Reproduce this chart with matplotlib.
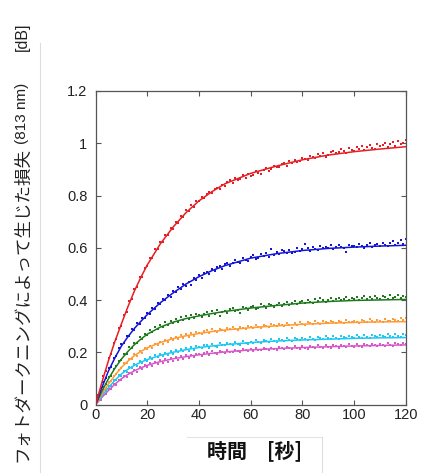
import numpy as np
import matplotlib
matplotlib.use("Agg")
import matplotlib.pyplot as plt
from matplotlib.lines import Line2D

# ---------------- data ----------------
t = np.arange(0, 121, 1)  # measurement time [s]

red = [0.003, 0.038, 0.066, 0.111, 0.131, 0.178, 0.196, 0.238, 0.251, 0.293,
       0.303, 0.345, 0.356, 0.398, 0.405, 0.444, 0.449, 0.488, 0.490, 0.525,
       0.531, 0.561, 0.562, 0.594, 0.596, 0.624, 0.621, 0.651, 0.648, 0.677,
       0.674, 0.699, 0.696, 0.722, 0.719, 0.744, 0.740, 0.763, 0.757, 0.781,
       0.778,
       0.795, 0.790, 0.806, 0.814, 0.809, 0.826, 0.829, 0.826, 0.842, 0.838,
       0.851, 0.858, 0.850, 0.866, 0.859, 0.862, 0.877, 0.868, 0.884, 0.876,
       0.880, 0.893, 0.887, 0.884, 0.899, 0.906, 0.895, 0.902, 0.915, 0.908,
       0.911, 0.921, 0.926, 0.914, 0.931, 0.924, 0.936, 0.929, 0.933, 0.945,
       0.941, 0.936, 0.951, 0.947, 0.943, 0.958, 0.953, 0.962, 0.949, 0.957,
       0.968, 0.972, 0.961, 0.966, 0.978, 0.970, 0.964, 0.982, 0.975, 0.971,
       0.984, 0.977, 0.990, 0.974, 0.986, 0.993, 0.981, 0.979, 0.996, 0.988,
       0.992, 1.001, 0.985, 0.997, 1.004, 0.990, 1.009, 0.996, 1.002, 1.014]

blue = [0.002, 0.031, 0.050, 0.089, 0.101, 0.139, 0.146, 0.180, 0.186, 0.219,
        0.233, 0.236, 0.262, 0.263, 0.289, 0.287, 0.312, 0.309, 0.333, 0.331,
        0.352, 0.349, 0.371, 0.366, 0.389, 0.384, 0.405, 0.401, 0.420, 0.414,
        0.436, 0.430, 0.449, 0.443, 0.463, 0.455, 0.470, 0.458, 0.486, 0.479,
        0.497, 0.486, 0.505, 0.509, 0.499, 0.520, 0.511, 0.527, 0.531, 0.519,
        0.538, 0.544, 0.529, 0.541, 0.552, 0.546, 0.543, 0.561, 0.555, 0.549,
        0.566, 0.572, 0.558, 0.563, 0.577, 0.569, 0.581, 0.566, 0.597, 0.574,
        0.583, 0.575, 0.591, 0.588, 0.579, 0.593, 0.581, 0.586, 0.598, 0.590,
        0.596, 0.614, 0.601, 0.588, 0.603, 0.595, 0.592, 0.608, 0.599, 0.604,
        0.601, 0.610, 0.596, 0.603, 0.612, 0.605, 0.598, 0.584, 0.611, 0.606,
        0.609, 0.602, 0.615, 0.607, 0.600, 0.613, 0.619, 0.605, 0.611, 0.616,
        0.608, 0.620, 0.613, 0.606, 0.618, 0.625, 0.611, 0.617, 0.629, 0.614, 0.633]

green = [0.001, 0.025, 0.038, 0.067, 0.078, 0.106, 0.112, 0.138, 0.147, 0.168,
         0.171, 0.196, 0.193, 0.222, 0.216, 0.238, 0.236, 0.258, 0.252, 0.271,
         0.267, 0.287, 0.279, 0.298, 0.289, 0.305, 0.299, 0.316, 0.304, 0.321,
         0.313, 0.329, 0.318, 0.334, 0.323, 0.339, 0.327, 0.345, 0.331, 0.348,
         0.344, 0.336, 0.349, 0.353, 0.341, 0.358, 0.347, 0.362, 0.340, 0.355,
         0.360, 0.352, 0.366, 0.371, 0.358, 0.363, 0.352, 0.374, 0.369, 0.362,
         0.373, 0.379, 0.366, 0.371, 0.384, 0.377, 0.372, 0.386, 0.380, 0.375,
         0.383, 0.391, 0.378, 0.386, 0.394, 0.381, 0.389, 0.397, 0.385, 0.392,
         0.398, 0.390, 0.402, 0.394, 0.388, 0.403, 0.396, 0.407, 0.399, 0.393,
         0.401, 0.408, 0.396, 0.404, 0.410, 0.399, 0.406, 0.412, 0.402, 0.409,
         0.405, 0.413, 0.400, 0.408, 0.416, 0.404, 0.411, 0.403, 0.415, 0.409,
         0.406, 0.417, 0.411, 0.404, 0.419, 0.410, 0.413, 0.421, 0.407, 0.416, 0.412]

orange = [0.000, 0.020, 0.030, 0.055, 0.062, 0.086, 0.090, 0.111, 0.118, 0.134,
          0.140, 0.158, 0.159, 0.176, 0.174, 0.193, 0.188, 0.205, 0.199, 0.216,
          0.213, 0.226, 0.219, 0.234, 0.228, 0.242, 0.233, 0.248, 0.239, 0.256,
          0.247, 0.261, 0.252, 0.266, 0.256, 0.270, 0.260, 0.274, 0.263, 0.279,
          0.276, 0.270, 0.282, 0.285, 0.274, 0.289, 0.281, 0.277, 0.291, 0.286,
          0.284, 0.293, 0.288, 0.296, 0.290, 0.285, 0.299, 0.294, 0.291, 0.302,
          0.297, 0.293, 0.304, 0.299, 0.295, 0.307, 0.301, 0.298, 0.309, 0.304,
          0.300, 0.310, 0.305, 0.302, 0.313, 0.307, 0.294, 0.311, 0.306, 0.315,
          0.310, 0.305, 0.316, 0.312, 0.308, 0.319, 0.313, 0.310, 0.321, 0.315,
          0.311, 0.320, 0.316, 0.313, 0.322, 0.317, 0.314, 0.324, 0.318, 0.315,
          0.321, 0.317, 0.314, 0.325, 0.319, 0.316, 0.327, 0.320, 0.317, 0.326,
          0.321, 0.318, 0.328, 0.322, 0.319, 0.330, 0.323, 0.320, 0.331, 0.325, 0.333]

cyan = [0.002, 0.018, 0.026, 0.047, 0.051, 0.072, 0.073, 0.094, 0.093, 0.113,
        0.112, 0.130, 0.126, 0.143, 0.139, 0.156, 0.149, 0.166, 0.158, 0.175,
        0.168, 0.182, 0.176, 0.190, 0.181, 0.195, 0.186, 0.199, 0.191, 0.205,
        0.196, 0.209, 0.200, 0.213, 0.204, 0.217, 0.207, 0.220, 0.210, 0.224,
        0.222, 0.216, 0.227, 0.230, 0.219, 0.232, 0.226, 0.222, 0.235, 0.229,
        0.227, 0.236, 0.231, 0.228, 0.240, 0.234, 0.230, 0.243, 0.237, 0.233,
        0.241, 0.236, 0.246, 0.240, 0.237, 0.249, 0.243, 0.239, 0.251, 0.245,
        0.242, 0.252, 0.247, 0.243, 0.255, 0.249, 0.245, 0.257, 0.250, 0.247,
        0.255, 0.250, 0.247, 0.259, 0.253, 0.249, 0.261, 0.254, 0.251, 0.263,
        0.256, 0.252, 0.262, 0.257, 0.253, 0.265, 0.258, 0.254, 0.264, 0.259,
        0.255, 0.266, 0.260, 0.256, 0.267, 0.261, 0.257, 0.268, 0.262, 0.258,
        0.268, 0.263, 0.259, 0.270, 0.264, 0.260, 0.271, 0.265, 0.261, 0.272, 0.266]

magenta = [0.000, 0.014, 0.020, 0.039, 0.041, 0.060, 0.060, 0.078, 0.077, 0.095,
           0.094, 0.110, 0.105, 0.121, 0.117, 0.134, 0.126, 0.143, 0.135, 0.151,
           0.144, 0.158, 0.150, 0.164, 0.156, 0.170, 0.160, 0.174, 0.164, 0.179,
           0.169, 0.182, 0.172, 0.186, 0.175, 0.189, 0.178, 0.192, 0.181, 0.195,
           0.194, 0.188, 0.199, 0.202, 0.191, 0.204, 0.198, 0.194, 0.207, 0.201,
           0.199, 0.208, 0.203, 0.200, 0.211, 0.206, 0.202, 0.213, 0.208, 0.204,
           0.212, 0.207, 0.216, 0.211, 0.208, 0.218, 0.213, 0.209, 0.219, 0.214,
           0.211, 0.221, 0.216, 0.212, 0.222, 0.217, 0.213, 0.223, 0.218, 0.215,
           0.224, 0.219, 0.215, 0.226, 0.220, 0.216, 0.227, 0.221, 0.217, 0.228,
           0.222, 0.218, 0.229, 0.223, 0.219, 0.230, 0.224, 0.220, 0.231, 0.225,
           0.221, 0.232, 0.226, 0.222, 0.233, 0.227, 0.223, 0.233, 0.228, 0.224,
           0.234, 0.229, 0.225, 0.235, 0.230, 0.226, 0.236, 0.231, 0.227, 0.237, 0.232]

# fitted curves, read at these times
fit_t = [0, 2.5, 5, 7.5, 10, 12.5, 15, 17.5, 20, 25, 30, 35, 40, 45, 50,
         60, 70, 80, 90, 100, 110, 120]
red_fit = [0, 0.088, 0.17, 0.243, 0.31, 0.375, 0.435, 0.487, 0.535, 0.615, 0.68,
           0.735, 0.78, 0.815, 0.845, 0.885, 0.913, 0.937, 0.955, 0.968, 0.978, 0.987]
blue_fit = [0, 0.068, 0.13, 0.18, 0.225, 0.26, 0.292, 0.319, 0.345, 0.39, 0.428,
            0.462, 0.49, 0.513, 0.532, 0.561, 0.578, 0.59, 0.598, 0.603, 0.607, 0.61]
green_fit = [0, 0.053, 0.1, 0.14, 0.175, 0.204, 0.23, 0.251, 0.27, 0.297, 0.316,
             0.33, 0.34, 0.349, 0.357, 0.37, 0.38, 0.389, 0.395, 0.399, 0.401, 0.403]
orange_fit = [0, 0.043, 0.08, 0.113, 0.143, 0.167, 0.188, 0.204, 0.218, 0.238, 0.253,
              0.264, 0.273, 0.28, 0.286, 0.295, 0.302, 0.308, 0.312, 0.315, 0.317, 0.318]
cyan_fit = [0, 0.035, 0.066, 0.094, 0.118, 0.136, 0.151, 0.163, 0.173, 0.189, 0.201,
            0.211, 0.219, 0.225, 0.23, 0.238, 0.244, 0.248, 0.251, 0.254, 0.256, 0.257]
magenta_fit = [0, 0.029, 0.055, 0.079, 0.1, 0.116, 0.13, 0.141, 0.151, 0.165, 0.176,
               0.184, 0.191, 0.197, 0.202, 0.21, 0.215, 0.219, 0.222, 0.225, 0.227, 0.229]

x_ticks = [0, 20, 40, 60, 80, 100, 120]
y_ticks = [0, 0.2, 0.4, 0.6, 0.8, 1.0, 1.2]
y_tick_labels = ["0", "0.2", "0.4", "0.6", "0.8", "1", "1.2"]

# ---------------- figure ----------------
W, H = 424, 473
fig = plt.figure(figsize=(W / 100, H / 100), dpi=100)
fig.patch.set_facecolor("white")

ax = fig.add_axes([95.6 / W, 1 - 404.8 / H, 310.2 / W, 313.8 / H])

series = [
    (magenta, magenta_fit, "#d958c8"),
    (cyan, cyan_fit, "#1ec8f2"),
    (orange, orange_fit, "#ff9b36"),
    (green, green_fit, "#1f7a1f"),
    (blue, blue_fit, "#1515d5"),
    (red, red_fit, "#e61e24"),
]
for data, fit, col in series:
    ax.plot(t, data, linestyle="none", marker="s", markersize=1.7,
            markeredgewidth=0, color=col, zorder=2)
    ax.plot(fit_t, fit, color=col, linewidth=1.1, zorder=3)

ax.set_xlim(0, 120)
ax.set_ylim(0, 1.2)
ax.set_xticks(x_ticks)
ax.set_yticks(y_ticks)
ax.set_yticklabels(y_tick_labels)

for sp in ax.spines.values():
    sp.set_color("#555555")
    sp.set_linewidth(0.9)

ax.tick_params(axis="both", which="both", direction="in", top=True, right=True,
               length=3.6, width=0.8, color="#555555", labelcolor="#222222",
               labelsize=10.5)
ax.tick_params(axis="x", pad=2)
ax.tick_params(axis="y", pad=6)
for lab in ax.get_xticklabels() + ax.get_yticklabels():
    lab.set_family(["Liberation Sans", "DejaVu Sans"])

# y-axis label (three pieces)
fig.text(22 / W, 1 - 305 / H, "フォトダークニングによって生じた損失",
         rotation=90, ha="center", va="center", fontsize=12.6,
         family=["Noto Sans CJK JP", "DejaVu Sans"], color="#222222")
fig.text(22 / W, 1 - 113.5 / H, "(813 nm)", rotation=90, ha="center",
         va="center", fontsize=11, family=["Liberation Sans", "DejaVu Sans"],
         color="#222222")
fig.text(22 / W, 1 - 36.5 / H, "[dB]", rotation=90, ha="center",
         va="center", fontsize=11.5, family=["Liberation Sans", "DejaVu Sans"],
         color="#222222")

# x-axis label
fig.text(255 / W, 1 - 451 / H, "時間\u3000[秒]", ha="center", va="center",
         fontsize=14.4, fontweight="bold",
         family=["Noto Sans CJK JP", "DejaVu Sans"], color="#111111")

# faint text-box borders
fig.add_artist(Line2D([40 / W, 40 / W], [1 - 43 / H, 0], transform=fig.transFigure,
                      color="#dddddd", linewidth=0.8))
fig.add_artist(Line2D([187 / W, 322 / W], [1 - 437 / H, 1 - 437 / H],
                      transform=fig.transFigure, color="#e4e4e4", linewidth=0.8))
fig.add_artist(Line2D([322 / W, 322 / W], [1 - 437 / H, 0], transform=fig.transFigure,
                      color="#dddddd", linewidth=0.8))

fig.savefig("out.png", dpi=100, facecolor="white")
